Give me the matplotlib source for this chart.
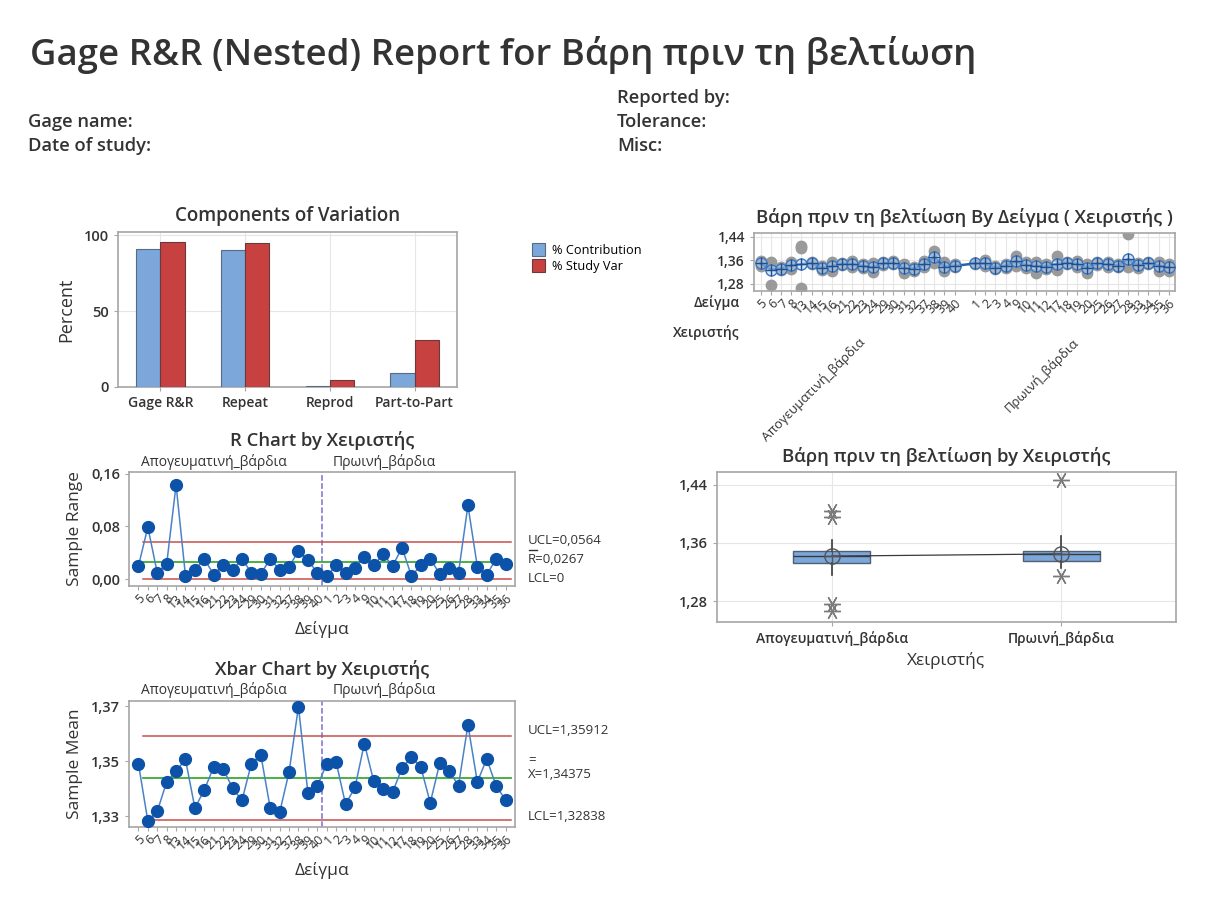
import numpy as np
import matplotlib
matplotlib.use("Agg")
import matplotlib.pyplot as plt
import matplotlib.transforms as mtransforms
from matplotlib.lines import Line2D

plt.rcParams['font.family'] = ['Open Sans', 'DejaVu Sans']

W, H = 1219, 913

# ---- data -------------------------------------------------------------
operators = ["Απογευματινή_βάρδια", "Πρωινή_βάρδια"]
samples_g1 = [5, 6, 7, 8, 13, 14, 15, 16, 21, 22, 23, 24, 29, 30, 31, 32, 37, 38, 39, 40]
samples_g2 = [1, 2, 3, 4, 9, 10, 11, 12, 17, 18, 19, 20, 25, 26, 27, 28, 33, 34, 35, 36]

components = ["Gage R&R", "Repeat", "Reprod", "Part-to-Part"]
pct_contribution = [90.6, 90.1, 0.6, 9.4]
pct_study_var = [95.2, 95.0, 4.3, 30.7]

ranges_g1 = [0.020, 0.079, 0.010, 0.023, 0.143, 0.005, 0.014, 0.031, 0.007, 0.022,
             0.014, 0.031, 0.010, 0.008, 0.031, 0.014, 0.019, 0.043, 0.029, 0.010]
ranges_g2 = [0.0045, 0.021, 0.010, 0.017, 0.034, 0.021, 0.038, 0.020, 0.048, 0.005,
             0.021, 0.031, 0.008, 0.017, 0.010, 0.112, 0.019, 0.007, 0.031, 0.023]
r_ucl, r_bar, r_lcl = 0.0564, 0.0267, 0.0

means_g1 = [1.3491, 1.3282, 1.3317, 1.3424, 1.3464, 1.3506, 1.3329, 1.3395, 1.3479, 1.3471,
            1.3402, 1.3357, 1.3491, 1.3523, 1.3329, 1.3313, 1.3460, 1.3698, 1.3385, 1.3408]
means_g2 = [1.3491, 1.3497, 1.3343, 1.3404, 1.3564, 1.3426, 1.3400, 1.3387, 1.3475, 1.3515,
            1.3478, 1.3348, 1.3492, 1.3464, 1.3411, 1.3632, 1.3424, 1.3508, 1.3409, 1.3359]
x_ucl, x_bar, x_lcl = 1.35912, 1.34375, 1.32838

# lowest / highest single reading per sample
low_g1 = [1.339, 1.276, 1.327, 1.331, 1.266, 1.348, 1.326, 1.324, 1.344, 1.336,
          1.333, 1.320, 1.344, 1.348, 1.317, 1.324, 1.337, 1.350, 1.324, 1.336]
high_g1 = [1.359, 1.355, 1.337, 1.354, 1.410, 1.353, 1.340, 1.355, 1.351, 1.358,
           1.347, 1.351, 1.354, 1.356, 1.348, 1.338, 1.356, 1.393, 1.353, 1.346]
low_g2 = [1.347, 1.339, 1.329, 1.332, 1.340, 1.332, 1.317, 1.329, 1.326, 1.349,
          1.337, 1.318, 1.345, 1.338, 1.336, 1.338, 1.333, 1.347, 1.324, 1.324]
high_g2 = [1.351, 1.360, 1.339, 1.349, 1.374, 1.353, 1.355, 1.349, 1.374, 1.354,
           1.358, 1.349, 1.353, 1.355, 1.346, 1.450, 1.352, 1.354, 1.355, 1.347]
extra_sample = [13]
extra_value = [1.401]

# box plot by operator
box_q1 = [1.333, 1.3358]
box_med = [1.342, 1.345]
box_q3 = [1.3484, 1.3495]
box_wlo = [1.316, 1.3253]
box_whi = [1.364, 1.370]
box_mean = [1.342, 1.345]
box_out = [[1.2756, 1.2663, 1.3961, 1.4043], [1.446, 1.315]]

# ---- style ------------------------------------------------------------
TXT = "#333333"
BLUE_BAR = "#7BA7DA"
RED_BAR = "#C84141"
PT_BLUE = "#0B52A8"
LN_BLUE = "#4A82C8"
GREEN = "#3AAA35"
RED_LN = "#C8504D"
SPINE = "#A6A6A6"
GRID = "#E6E6E6"


def px(l, t, r, b):
    return [l / W, 1 - b / H, (r - l) / W, (b - t) / H]


def comma(v, fmt):
    return (fmt % v).replace(".", ",")


def frame(ax):
    for s in ax.spines.values():
        s.set_color(SPINE)
        s.set_linewidth(1.2)
    ax.tick_params(colors=SPINE, labelcolor=TXT, length=3, width=0.8)


fig = plt.figure(figsize=(W / 100, H / 100), dpi=100)
fig.patch.set_facecolor("white")

fig.text(30 / W, 1 - 55 / H, "Gage R&R (Nested) Report for Βάρη πριν τη βελτίωση",
         fontsize=26.3, fontweight="semibold", color=TXT, va="center", ha="left")
for lab, x, y in [("Reported by:", 617, 98), ("Tolerance:", 617, 122), ("Misc:", 617, 146),
                  ("Gage name:", 28, 122), ("Date of study:", 28, 146)]:
    fig.text(x / W, 1 - y / H, lab, fontsize=13.2, fontweight="semibold", color=TXT,
             va="center", ha="left")

# ---- components of variation -----------------------------------------
ax = fig.add_axes(px(118, 232, 457, 387))
frame(ax)
xc = np.arange(len(components))
bw = 0.285
ax.bar(xc - bw / 2, pct_contribution, bw, color=BLUE_BAR, edgecolor="#5A6A80", linewidth=0.8,
       label="% Contribution", zorder=3)
ax.bar(xc + bw / 2, pct_study_var, bw, color=RED_BAR, edgecolor="#6A3A3A", linewidth=0.8,
       label="% Study Var", zorder=3)
ax.set_xlim(-0.5, 3.5)
ax.set_ylim(0, 102)
ax.set_xticks(xc)
ax.set_xticklabels(components, fontsize=10, fontweight="semibold")
ax.set_yticks([0, 50, 100])
ax.set_yticklabels(["0", "50", "100"], fontsize=10.5, fontweight="semibold")
ax.grid(True, color=GRID, linewidth=0.8, zorder=0)
ax.set_ylabel("Percent", fontsize=13, color=TXT, labelpad=6)
ax.set_title("Components of Variation", fontsize=13.5, fontweight="semibold", color=TXT, pad=8)
ax.legend(loc="upper left", bbox_to_anchor=(526 / W, 1 - 237 / H), bbox_transform=fig.transFigure,
          frameon=False, fontsize=9.2, handlelength=1.0, handleheight=1.2, handletextpad=0.5,
          labelspacing=0.15, borderpad=0)


# ---- R and Xbar charts -------------------------------------------------
def control_chart(rect, values, ucl, cl, lcl, ylim, yticks, yfmt, title, ylab, labels):
    ax = fig.add_axes(px(*rect))
    frame(ax)
    n = len(values)
    x = np.arange(n)
    ax.plot(x, values, color=LN_BLUE, linewidth=1.1, zorder=3)
    ax.plot(x, values, "o", color=PT_BLUE, markersize=8.5, zorder=4)
    ax.axhline(ucl, xmin=0.035, xmax=0.99, color=RED_LN, linewidth=1.1, zorder=2)
    ax.axhline(lcl, xmin=0.035, xmax=0.99, color=RED_LN, linewidth=1.1, zorder=2)
    ax.axhline(cl, xmin=0.035, xmax=0.99, color=GREEN, linewidth=1.3, zorder=2)
    ax.axvline(n / 2 - 0.5, color="#7A6FD0", linestyle="--", linewidth=1.1, zorder=1)
    ax.set_xlim(-1, n)
    ax.set_ylim(*ylim)
    ax.set_xticks(x)
    ax.set_xticklabels([str(s) for s in samples_g1 + samples_g2], rotation=45, fontsize=9,
                       ha="right", va="top", rotation_mode="anchor")
    ax.tick_params(axis="x", pad=1)
    ax.set_yticks(yticks)
    ax.set_yticklabels([comma(v, yfmt) for v in yticks], fontsize=10.5, fontweight="semibold")
    ax.set_ylabel(ylab, fontsize=12.5, color=TXT, labelpad=6)
    ax.set_xlabel("Δείγμα", fontsize=12.5, color=TXT, labelpad=7)
    ax.set_title(title, fontsize=13.3, fontweight="semibold", color=TXT, pad=19)
    tr = mtransforms.blended_transform_factory(ax.transData, ax.transAxes)
    ax.text(0.3, 1.02, operators[0], transform=tr, fontsize=10, color=TXT, ha="left", va="bottom")
    ax.text(n / 2 + 0.6, 1.02, operators[1], transform=tr, fontsize=10, color=TXT, ha="left",
            va="bottom")
    for txt, y in labels:
        fig.text(528 / W, 1 - y / H, txt, fontsize=9.5, color=TXT, ha="left", va="center")
    return ax


control_chart((129, 472, 515, 586), ranges_g1 + ranges_g2, r_ucl, r_bar, r_lcl,
              (-0.0102, 0.1626), [0.0, 0.08, 0.16], "%.2f", "R Chart by Χειριστής", "Sample Range",
              [("UCL=" + comma(r_ucl, "%.4f"), 540), ("R=" + comma(r_bar, "%.4f"), 559),
               ("LCL=0", 578)])
fig.add_artist(Line2D([529 / W, 537 / W], [1 - 549.5 / H, 1 - 549.5 / H], color=TXT, linewidth=1))

control_chart((129, 701, 515, 827), means_g1 + means_g2, x_ucl, x_bar, x_lcl,
              (1.326, 1.3719), [1.33, 1.35, 1.37], "%.2f", "Xbar Chart by Χειριστής", "Sample Mean",
              [("UCL=" + comma(x_ucl, "%.5f"), 731), ("=", 761),
               ("X=" + comma(x_bar, "%.5f"), 774), ("LCL=" + comma(x_lcl, "%.5f"), 816)])

# ---- by sample (operator) ---------------------------------------------
ax = fig.add_axes(px(754, 233, 1175, 291))
frame(ax)
pos1 = np.arange(20)
pos2 = np.arange(21, 41)
ax.grid(True, color=GRID, linewidth=0.8, zorder=0)
for pos, lo, hi in [(pos1, low_g1, high_g1), (pos2, low_g2, high_g2)]:
    ax.plot(pos, lo, "o", color="#9A9A9A", markersize=7.5, zorder=2)
    ax.plot(pos, hi, "o", color="#9A9A9A", markersize=7.5, zorder=2)
ax.plot([pos1[samples_g1.index(s)] for s in extra_sample], extra_value, "o", color="#9A9A9A",
        markersize=7.5, zorder=2)
allpos = np.concatenate([pos1, pos2])
allmeans = means_g1 + means_g2
ax.plot(allpos, allmeans, color="#2563B0", linewidth=1.8, zorder=3)
ax.plot(allpos, allmeans, "o", markersize=8, markerfacecolor=(0.70, 0.81, 0.95, 0.55),
        markeredgecolor="#3A78C2", markeredgewidth=1.0, zorder=4)
ax.plot(allpos, allmeans, "+", markersize=8, color="#1F4E8F", markeredgewidth=1.0, zorder=5)
ax.set_xlim(-0.65, 40.6)
ax.set_ylim(1.2546, 1.4537)
ax.set_yticks([1.28, 1.36, 1.44])
ax.set_yticklabels([comma(v, "%.2f") for v in [1.28, 1.36, 1.44]], fontsize=10,
                   fontweight="semibold")
ax.set_xticks(allpos)
ax.set_xticklabels([str(s) for s in samples_g1 + samples_g2], rotation=45, fontsize=9,
                   ha="right", va="top", rotation_mode="anchor")
ax.tick_params(axis="x", pad=1)
ax.set_title("Βάρη πριν τη βελτίωση By Δείγμα ( Χειριστής )", fontsize=13.3,
             fontweight="semibold", color=TXT, pad=7)
fig.text(740 / W, 1 - 303 / H, "Δείγμα", fontsize=10, fontweight="semibold", color=TXT,
         ha="right", va="center")
fig.text(740 / W, 1 - 333 / H, "Χειριστής", fontsize=10, fontweight="semibold", color=TXT,
         ha="right", va="center")
tr = mtransforms.blended_transform_factory(ax.transData, fig.transFigure)
ax.text(pos1.mean(), 1 - 335 / H, operators[0], transform=tr, rotation=45, fontsize=9.5,
        color=TXT, ha="right", va="top", rotation_mode="anchor")
ax.text(pos2.mean(), 1 - 335 / H, operators[1], transform=tr, rotation=45, fontsize=9.5,
        color=TXT, ha="right", va="top", rotation_mode="anchor")

# ---- by operator box plot ---------------------------------------------
ax = fig.add_axes(px(717, 472, 1176, 622))
frame(ax)
ax.grid(True, color=GRID, linewidth=0.8, zorder=0)
stats = []
for i in range(2):
    stats.append(dict(q1=box_q1[i], med=box_med[i], q3=box_q3[i], whislo=box_wlo[i],
                      whishi=box_whi[i], fliers=box_out[i], mean=box_mean[i]))
ax.bxp(stats, positions=[0, 1], widths=0.334, patch_artist=True, showcaps=False,
       boxprops=dict(facecolor=BLUE_BAR, edgecolor="#4F5F75", linewidth=1.0),
       medianprops=dict(color="#3A3A3A", linewidth=1.0),
       whiskerprops=dict(color="#3A3A3A", linewidth=1.2),
       flierprops=dict(marker=(6, 2, 90), markersize=12, markeredgecolor="#7A7A7A",
                       markeredgewidth=1.0, linestyle="none"))
ax.plot([0, 1], box_mean, color="#3A3A3A", linewidth=0.9, zorder=5)
ax.plot([0, 1], box_mean, "o", markersize=11, markerfacecolor="none", markeredgecolor="#555555",
        markeredgewidth=1.0, zorder=6)
ax.plot([0, 1], box_mean, "+", markersize=8, color="#555555", markeredgewidth=1.0, zorder=6)
ax.set_xlim(-0.5, 1.5)
ax.set_ylim(1.2515, 1.4575)
ax.set_yticks([1.28, 1.36, 1.44])
ax.set_yticklabels([comma(v, "%.2f") for v in [1.28, 1.36, 1.44]], fontsize=10.5,
                   fontweight="semibold")
ax.set_xticks([0, 1])
ax.set_xticklabels(operators, fontsize=10, fontweight="semibold")
ax.set_xlabel("Χειριστής", fontsize=12.5, color=TXT, labelpad=4)
ax.set_title("Βάρη πριν τη βελτίωση by Χειριστής", fontsize=13.3, fontweight="semibold",
             color=TXT, pad=7)

fig.savefig("out.png", dpi=100)
